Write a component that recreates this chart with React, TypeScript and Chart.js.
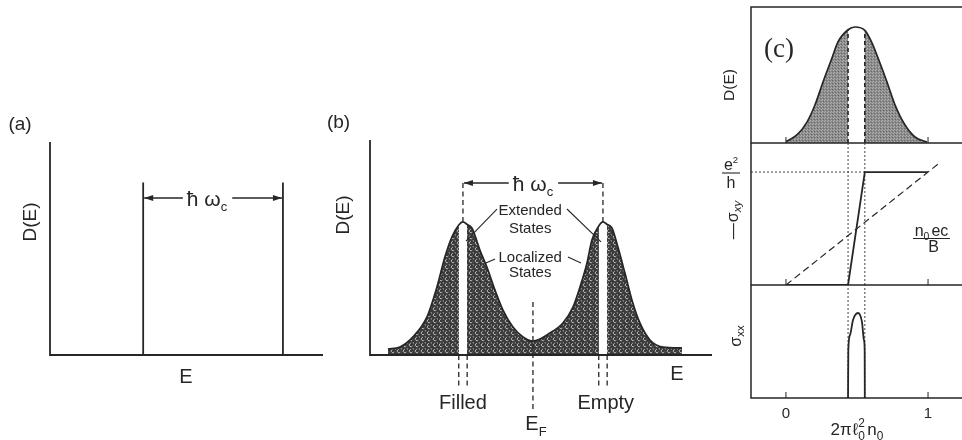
import React, { useEffect, useRef } from 'react';
import { Chart, registerables } from 'chart.js';

Chart.register(...registerables);

const W = 962;
const H = 440;
const SANS = '"Liberation Sans", Arimo, Arial, sans-serif';
const SERIF = '"Liberation Serif", "DejaVu Serif", serif';
const INK = '#262626';

// ---------------- Panel (a): ideal Landau levels ----------------
const aLevelEnergies = [1, 2.5];
const aLevelHeight = 0.81;
const aGapArrowLevel = 0.737;

// ---------------- Panel (b): disorder-broadened levels ----------------
const bEnergy = [-1.036, -0.95, -0.857, -0.757, -0.686, -0.629, -0.579, -0.53, -0.5, -0.47, -0.436, -0.379, -0.329, -0.271, -0.214, -0.143, -0.071, 0, 0.121, 0.214, 0.286, 0.336, 0.386, 0.421, 0.47, 0.5, 0.53, 0.564, 0.607, 0.657, 0.707, 0.764, 0.836, 0.929, 1.064];
const bDos = [0.028, 0.037, 0.084, 0.177, 0.316, 0.456, 0.549, 0.605, 0.619, 0.607, 0.591, 0.488, 0.409, 0.302, 0.209, 0.13, 0.084, 0.065, 0.102, 0.149, 0.223, 0.316, 0.428, 0.535, 0.6, 0.619, 0.607, 0.591, 0.502, 0.381, 0.256, 0.149, 0.07, 0.037, 0.033];
const bStripEdges = [[-0.53, -0.47], [0.47, 0.53]];
const bPeakEnergies = [-0.5, 0.5];
const bPeakDos = 0.619;
const bGapArrowLevel = 0.8;
const bFermiEnergy = 0;
const bFermiLineRange = [-0.265, 0.247];
const bEdgeLineBottom = -0.153;

// ---------------- Panel (c): one level vs. filling ----------------
const cFilling = [0, 0.077, 0.148, 0.204, 0.261, 0.324, 0.366, 0.437, 0.486, 0.555, 0.606, 0.648, 0.711, 0.768, 0.838, 0.908, 0.993];
const cDos = [0.01, 0.059, 0.154, 0.279, 0.449, 0.625, 0.743, 0.833, 0.853, 0.828, 0.735, 0.625, 0.449, 0.279, 0.132, 0.044, 0.007];
const cStripEdges = [0.437, 0.555];
const cStripTop = 0.86;
const cHallFilling = [0, 0.437, 0.555, 1];
const cHallValue = [0, 0, 1, 1];
const cClassicalFilling = [0, 1.085];
const cClassicalValue = [0, 1.085];
const cSxxFilling = [0.437, 0.439, 0.451, 0.472, 0.507, 0.535, 0.549, 0.554, 0.555];
const cSxxValue = [0, 0.425, 0.558, 0.69, 0.752, 0.673, 0.513, 0.425, 0];
const cTickValues = [0, 1];
const cTickLabels = ['0', '1'];

// ---------------- helpers ----------------
type Run = { t: string; s?: number; dy?: number; dx?: number; it?: boolean; adv?: boolean; f?: string };
type Opt = { family?: string; align?: 'left' | 'center' | 'right'; rot?: number; color?: string };

function drawRich(ctx: CanvasRenderingContext2D, runs: Run[], x: number, y: number, size: number, opts: Opt = {}) {
  const family = opts.family ?? SANS;
  const fontOf = (r: Run) => `${r.it ? 'italic ' : ''}${Math.round(size * (r.s ?? 1) * 10) / 10}px ${r.f ?? family}`;
  ctx.save();
  ctx.translate(x, y);
  if (opts.rot) ctx.rotate(opts.rot);
  ctx.fillStyle = opts.color ?? INK;
  ctx.textBaseline = 'alphabetic';
  ctx.textAlign = 'left';
  const adv = runs.map((r) => {
    ctx.font = fontOf(r);
    return r.adv === false ? 0 : ctx.measureText(r.t).width + (r.dx ?? 0);
  });
  const total = adv.reduce((a, b) => a + b, 0);
  let cx = opts.align === 'left' ? 0 : opts.align === 'right' ? -total : -total / 2;
  const base = size * 0.36;
  runs.forEach((r, i) => {
    ctx.font = fontOf(r);
    ctx.fillText(r.t, cx + (r.dx ?? 0), base + (r.dy ?? 0) * size);
    cx += adv[i];
  });
  ctx.restore();
  return total;
}

function line(ctx: CanvasRenderingContext2D, x1: number, y1: number, x2: number, y2: number) {
  ctx.beginPath();
  ctx.moveTo(x1, y1);
  ctx.lineTo(x2, y2);
  ctx.stroke();
}

function arrowHead(ctx: CanvasRenderingContext2D, tipX: number, yy: number, dir: number) {
  ctx.beginPath();
  ctx.moveTo(tipX, yy);
  ctx.lineTo(tipX - dir * 9, yy - 3);
  ctx.lineTo(tipX - dir * 9, yy + 3);
  ctx.closePath();
  ctx.fill();
}

function gapArrow(ctx: CanvasRenderingContext2D, x1: number, x2: number, yy: number, gl: number, gr: number) {
  line(ctx, x1 + 1, yy, gl, yy);
  line(ctx, gr, yy, x2 - 1, yy);
  arrowHead(ctx, x1 + 1, yy, -1);
  arrowHead(ctx, x2 - 1, yy, 1);
}

const pts = (xs: number[], ys: number[]) => xs.map((x, i) => ({ x, y: ys[i] }));

function ds(data: { x: number; y: number }[], extra: any = {}) {
  return {
    data,
    pointRadius: 0,
    fill: false,
    borderColor: INK,
    borderWidth: 1.6,
    ...extra,
  };
}

function baseOptions(area: { l: number; t: number; r: number; b: number }, xr: number[], yr: number[]) {
  return {
    responsive: false,
    maintainAspectRatio: false,
    animation: false,
    events: [],
    layout: { padding: { left: area.l, top: area.t, right: W - area.r, bottom: H - area.b } },
    plugins: { legend: { display: false }, tooltip: { enabled: false }, title: { display: false } },
    scales: {
      x: { type: 'linear', display: false, min: xr[0], max: xr[1] },
      y: { type: 'linear', display: false, min: yr[0], max: yr[1] },
    },
  };
}

function makeCurlTexture() {
  const c = document.createElement('canvas');
  c.width = 6;
  c.height = 6;
  const g = c.getContext('2d')!;
  g.fillStyle = '#393939';
  g.fillRect(0, 0, 6, 6);
  g.strokeStyle = '#d2d2d2';
  g.lineWidth = 0.85;
  g.beginPath();
  g.arc(3, 3, 1.7, 0.2 * Math.PI, 1.5 * Math.PI);
  g.stroke();
  g.beginPath();
  g.moveTo(4.6, 0.2);
  g.lineTo(6, 1.4);
  g.stroke();
  return g.createPattern(c, 'repeat');
}

function makeStippleTexture() {
  const c = document.createElement('canvas');
  c.width = 3;
  c.height = 3;
  const g = c.getContext('2d')!;
  g.fillStyle = '#8a8a8a';
  g.fillRect(0, 0, 3, 3);
  g.fillStyle = '#b0b0b0';
  g.fillRect(0, 0, 1, 1);
  g.fillRect(2, 1, 1, 1);
  g.fillStyle = '#6a6a6a';
  g.fillRect(1, 2, 1, 1);
  return g.createPattern(c, 'repeat');
}

// ---------------- chart configs ----------------
function configA() {
  const plugin = {
    id: 'panelA',
    afterDraw(chart: any) {
      const { ctx, chartArea: a, scales } = chart;
      const x = scales.x;
      const y = scales.y;
      ctx.save();
      ctx.strokeStyle = INK;
      ctx.fillStyle = INK;
      ctx.lineWidth = 1.8;
      ctx.beginPath();
      ctx.moveTo(a.left, a.top);
      ctx.lineTo(a.left, a.bottom);
      ctx.lineTo(a.right, a.bottom);
      ctx.stroke();
      const x1 = x.getPixelForValue(aLevelEnergies[0]);
      const x2 = x.getPixelForValue(aLevelEnergies[1]);
      const ay = y.getPixelForValue(aGapArrowLevel);
      const tc = (x1 + x2) / 2 - 6;
      const w = drawRich(ctx, [{ t: 'ħ' }, { t: ' ω' }, { t: 'c', s: 0.62, dy: 0.28 }], tc, ay, 21);
      ctx.lineWidth = 1.4;
      gapArrow(ctx, x1, x2, ay, tc - w / 2 - 4, tc + w / 2 + 5);
      drawRich(ctx, [{ t: '(a)' }], 20, 123, 19);
      drawRich(ctx, [{ t: 'D(E)' }], 29.5, 222, 19, { rot: -Math.PI / 2 });
      drawRich(ctx, [{ t: 'E' }], 186, 376, 20);
      ctx.restore();
    },
  };
  return {
    type: 'line',
    data: {
      datasets: aLevelEnergies.map((e) => ds([{ x: e, y: 0 }, { x: e, y: aLevelHeight }], { borderWidth: 1.8 })),
    },
    options: baseOptions({ l: 50, t: 142, r: 323, b: 355 }, [0, 2.93], [0, 1]),
    plugins: [plugin],
  };
}

function configB() {
  const texture = makeCurlTexture();
  const curve = pts(bEnergy, bDos);
  const plugin = {
    id: 'panelB',
    afterDraw(chart: any) {
      const { ctx, chartArea: a, scales } = chart;
      const x = scales.x;
      const y = scales.y;
      const px = (v: number) => x.getPixelForValue(v);
      const py = (v: number) => y.getPixelForValue(v);
      ctx.save();
      ctx.strokeStyle = INK;
      ctx.fillStyle = INK;
      ctx.lineWidth = 1.8;
      ctx.beginPath();
      ctx.moveTo(a.left, a.top);
      ctx.lineTo(a.left, a.bottom);
      ctx.lineTo(a.right, a.bottom);
      ctx.stroke();
      const x1 = px(bPeakEnergies[0]);
      const x2 = px(bPeakEnergies[1]);
      const ay = py(bGapArrowLevel);
      const tc = (x1 + x2) / 2;
      const w = drawRich(ctx, [{ t: 'ħ' }, { t: ' ω' }, { t: 'c', s: 0.62, dy: 0.28 }], tc, ay, 21);
      ctx.lineWidth = 1.4;
      gapArrow(ctx, x1, x2, ay, tc - w / 2 - 4, tc + w / 2 + 5);
      const lx = px(-0.02);
      drawRich(ctx, [{ t: 'Extended' }], lx, py(0.674), 15);
      drawRich(ctx, [{ t: 'States' }], lx, py(0.591), 15);
      drawRich(ctx, [{ t: 'Localized' }], lx, py(0.456), 15);
      drawRich(ctx, [{ t: 'States' }], lx, py(0.386), 15);
      ctx.lineWidth = 1.1;
      const leaders = [
        [-0.257, 0.679, -0.479, 0.53],
        [0.243, 0.679, 0.486, 0.526],
        [-0.271, 0.447, -0.336, 0.428],
        [0.25, 0.456, 0.343, 0.428],
      ];
      leaders.forEach((l) => line(ctx, px(l[0]), py(l[1]), px(l[2]), py(l[3])));
      drawRich(ctx, [{ t: '(b)' }], 338.5, 121, 19);
      drawRich(ctx, [{ t: 'D(E)' }], 342, 215, 19, { rot: -Math.PI / 2 });
      drawRich(ctx, [{ t: 'E' }], 677, 373, 20);
      drawRich(ctx, [{ t: 'Filled' }], px(-0.5), 402, 20);
      drawRich(ctx, [{ t: 'Empty' }], px(0.52), 402, 20);
      drawRich(ctx, [{ t: 'E' }, { t: 'F', s: 0.65, dy: 0.3 }], px(bFermiEnergy) + 3, 423, 20);
      ctx.restore();
    },
  };
  const dashed = { borderDash: [5, 3.5], borderWidth: 1.3, clip: false };
  const datasets: any[] = [
    ds(curve, { fill: 'origin', backgroundColor: texture, borderWidth: 0, cubicInterpolationMode: 'monotone', order: 5 }),
    ...bStripEdges.map(([l, r]) =>
      ds([{ x: l, y: bPeakDos + 0.002 }, { x: r, y: bPeakDos + 0.002 }], { fill: 'origin', backgroundColor: '#ffffff', borderWidth: 0, order: 4 })
    ),
    ds(curve, { cubicInterpolationMode: 'monotone', borderWidth: 1.7, order: 1 }),
    ...bPeakEnergies.map((e) => ds([{ x: e, y: bPeakDos }, { x: e, y: bGapArrowLevel }], { ...dashed, order: 2 })),
    ...bStripEdges.flat().map((e) => ds([{ x: e, y: 0 }, { x: e, y: bEdgeLineBottom }], { ...dashed, order: 2 })),
    ds([{ x: bFermiEnergy, y: bFermiLineRange[1] }, { x: bFermiEnergy, y: bFermiLineRange[0] }], { ...dashed, order: 2 }),
  ];
  return {
    type: 'line',
    data: { datasets },
    options: baseOptions({ l: 370, t: 140, r: 712, b: 355 }, [-1.164, 1.279], [0, 1]),
    plugins: [plugin],
  };
}

function cFrame(ctx: any, a: any, x: any, drawTop: boolean) {
  ctx.strokeStyle = INK;
  ctx.lineWidth = 1.5;
  ctx.beginPath();
  if (drawTop) {
    ctx.moveTo(a.right, a.top);
    ctx.lineTo(a.left, a.top);
  } else {
    ctx.moveTo(a.left, a.top);
  }
  ctx.lineTo(a.left, a.bottom);
  ctx.lineTo(a.right, a.bottom);
  ctx.stroke();
  ctx.lineWidth = 1;
  cTickValues.forEach((v) => {
    const tx = x.getPixelForValue(v);
    line(ctx, tx, a.bottom, tx, a.bottom - 6);
  });
}

const C_X_RANGE = [-0.246, 1.239];

function configCTop() {
  const texture = makeStippleTexture();
  const curve = pts(cFilling, cDos);
  const edgeTops = [cDos[cFilling.indexOf(cStripEdges[0])], cDos[cFilling.indexOf(cStripEdges[1])]];
  const plugin = {
    id: 'panelCTop',
    afterDraw(chart: any) {
      const { ctx, chartArea: a, scales } = chart;
      ctx.save();
      cFrame(ctx, a, scales.x, true);
      drawRich(ctx, [{ t: '(c)' }], 779, 47, 27, { family: SERIF });
      drawRich(ctx, [{ t: 'D(E)' }], 728, 85, 15.5, { rot: -Math.PI / 2 });
      ctx.restore();
    },
  };
  const datasets: any[] = [
    ds(curve, { fill: 'origin', backgroundColor: texture, borderWidth: 0, cubicInterpolationMode: 'monotone', order: 5 }),
    ds([{ x: cStripEdges[0], y: cStripTop }, { x: cStripEdges[1], y: cStripTop }], { fill: 'origin', backgroundColor: '#ffffff', borderWidth: 0, order: 4 }),
    ...cStripEdges.map((e, i) => ds([{ x: e, y: 0 }, { x: e, y: edgeTops[i] }], { borderDash: [4, 3], borderWidth: 1.6, order: 2 })),
    ds(curve, { cubicInterpolationMode: 'monotone', borderWidth: 1.7, order: 1 }),
  ];
  return {
    type: 'line',
    data: { datasets },
    options: baseOptions({ l: 751, t: 7, r: 962, b: 143 }, C_X_RANGE, [0, 1]),
    plugins: [plugin],
  };
}

function configCMid() {
  const yMax = 1.257;
  const plugin = {
    id: 'panelCMid',
    afterDraw(chart: any) {
      const { ctx, chartArea: a, scales } = chart;
      ctx.save();
      cFrame(ctx, a, scales.x, false);
      ctx.strokeStyle = INK;
      ctx.lineWidth = 1.1;
      drawRich(ctx, [{ t: 'e' }, { t: '2', s: 0.6, dy: -0.45 }], 731, 164.7, 16);
      line(ctx, 722, 173, 740, 173);
      drawRich(ctx, [{ t: 'h' }], 731, 182.2, 16);
      drawRich(ctx, [{ t: '—' }, { t: 'σ', dx: 1 }, { t: 'xy', s: 0.72, dy: 0.22, it: true }], 732, 220, 16, { rot: -Math.PI / 2 });
      drawRich(ctx, [{ t: 'n' }, { t: '0', s: 0.65, dy: 0.25 }, { t: 'ec', dx: 2 }], 931.5, 230, 16);
      line(ctx, 913, 238.5, 950, 238.5);
      drawRich(ctx, [{ t: 'B' }], 933.5, 246, 16);
      ctx.restore();
    },
  };
  const dotted = { borderDash: [2, 2], borderWidth: 1, borderColor: '#444' };
  const datasets: any[] = [
    ...cStripEdges.map((e) => ds([{ x: e, y: 0 }, { x: e, y: yMax }], { ...dotted, order: 3 })),
    ds([{ x: C_X_RANGE[0], y: 1 }, { x: cStripEdges[1], y: 1 }], { ...dotted, order: 3 }),
    ds(pts(cClassicalFilling, cClassicalValue), { borderDash: [7, 4], borderWidth: 1.2, order: 2 }),
    ds(pts(cHallFilling, cHallValue), { borderWidth: 1.8, order: 1 }),
  ];
  return {
    type: 'line',
    data: { datasets },
    options: baseOptions({ l: 751, t: 143, r: 962, b: 285 }, C_X_RANGE, [0, yMax]),
    plugins: [plugin],
  };
}

function configCBottom() {
  const plugin = {
    id: 'panelCBottom',
    afterDraw(chart: any) {
      const { ctx, chartArea: a, scales } = chart;
      const x = scales.x;
      ctx.save();
      cFrame(ctx, a, x, false);
      cTickValues.forEach((v, i) => drawRich(ctx, [{ t: cTickLabels[i] }], x.getPixelForValue(v), 413, 15));
      drawRich(
        ctx,
        [
          { t: '2π' },
          { t: 'ℓ', dx: 1 },
          { t: '2', s: 0.7, dy: -0.48, adv: false },
          { t: '0', s: 0.7, dy: 0.26 },
          { t: 'n', dx: 2.5 },
          { t: '0', s: 0.7, dy: 0.26 },
        ],
        857,
        429,
        17
      );
      drawRich(ctx, [{ t: 'σ' }, { t: 'xx', s: 0.72, dy: 0.22 }], 735, 336, 16, { rot: -Math.PI / 2 });
      ctx.restore();
    },
  };
  const dotted = { borderDash: [2, 2], borderWidth: 1, borderColor: '#444' };
  const datasets: any[] = [
    ...cStripEdges.map((e) => ds([{ x: e, y: 0 }, { x: e, y: 1 }], { ...dotted, order: 2 })),
    ds(pts(cSxxFilling, cSxxValue), { borderWidth: 1.8, cubicInterpolationMode: 'monotone', order: 1 }),
  ];
  return {
    type: 'line',
    data: { datasets },
    options: baseOptions({ l: 751, t: 285, r: 962, b: 398 }, C_X_RANGE, [0, 1]),
    plugins: [plugin],
  };
}

function ChartLayer({ make }: { make: () => any }) {
  const ref = useRef<HTMLCanvasElement>(null);
  useEffect(() => {
    const cv = ref.current;
    if (!cv) return;
    const chart = new Chart(cv, make());
    return () => chart.destroy();
  }, []);
  return (
    <canvas
      ref={ref}
      width={W}
      height={H}
      style={{ position: 'absolute', left: 0, top: 0, width: W, height: H }}
    />
  );
}

export default function App() {
  return (
    <div
      style={{
        position: 'fixed',
        left: 0,
        top: 0,
        width: W,
        height: H,
        background: '#ffffff',
        overflow: 'hidden',
      }}
    >
      <ChartLayer make={configA} />
      <ChartLayer make={configB} />
      <ChartLayer make={configCTop} />
      <ChartLayer make={configCMid} />
      <ChartLayer make={configCBottom} />
    </div>
  );
}
